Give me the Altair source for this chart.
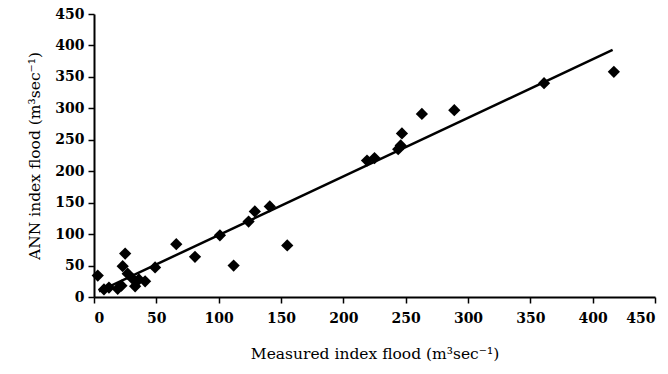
import altair as alt
import pandas as pd

measured = [3, 8, 12, 19, 22, 23, 25, 27, 31, 33, 36, 41, 49, 66, 81, 101, 112, 124, 129, 141, 155,
            219, 225, 244, 246, 247, 263, 289, 361, 417]
ann = [34, 12, 15, 13, 18, 49, 69, 37, 29, 17, 28, 25, 47, 84, 64, 98, 50, 120, 136, 144, 82,
       217, 221, 235, 241, 260, 291, 297, 340, 358]

line_x = [4, 416]
line_y = [9, 393]

pts = pd.DataFrame({"x": measured, "y": ann})
ln = pd.DataFrame({"x": line_x, "y": line_y})

xs = alt.Scale(domain=[0, 450], nice=False)
ys = alt.Scale(domain=[0, 450], nice=False)
ticks = list(range(0, 451, 50))

xax = alt.Axis(values=ticks, title="Measured index flood (m³sec⁻¹)", grid=False,
               titlePadding=21, labelPadding=8)
yax = alt.Axis(values=ticks, title="ANN index flood (m³sec⁻¹)", grid=False,
               titlePadding=12, labelPadding=4)

line = alt.Chart(ln).mark_line(color="black", strokeWidth=2.5).encode(
    x=alt.X("x:Q", scale=xs, axis=xax),
    y=alt.Y("y:Q", scale=ys, axis=yax),
)
points = alt.Chart(pts).mark_point(shape="diamond", filled=True, color="black",
                                   size=150, opacity=1).encode(
    x=alt.X("x:Q", scale=xs, axis=xax),
    y=alt.Y("y:Q", scale=ys, axis=yax),
)

chart = (line + points).properties(
    width=561, height=283,
    autosize=alt.AutoSizeParams(type="none"),
    padding={"left": 94, "top": 14, "right": 13, "bottom": 77},
).configure_view(stroke=None).configure_axis(
    domainColor="black", domainWidth=2, tickColor="black", tickWidth=1.5, tickSize=6,
    labelFont="DejaVu Serif", labelFontSize=14, labelFontWeight="bold", labelColor="black",
    titleFont="DejaVu Serif", titleFontSize=15.5, titleFontWeight="normal", titleColor="black",
)

chart.save("out.html", embed_options={"renderer": "svg", "actions": False})
